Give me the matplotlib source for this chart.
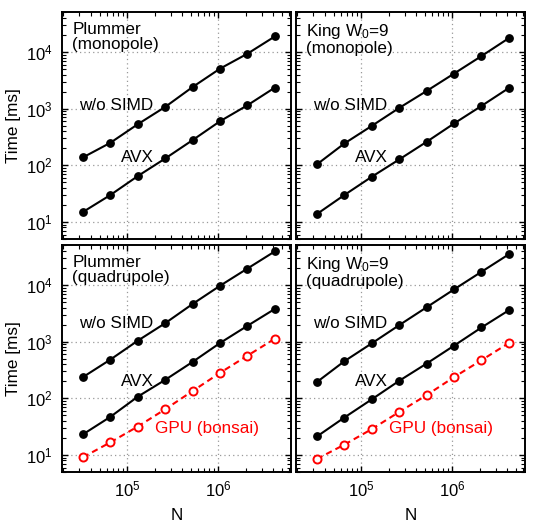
import matplotlib
matplotlib.use("Agg")
import matplotlib.pyplot as plt
from matplotlib.ticker import LogLocator, NullFormatter

plt.rcParams['font.family'] = ['Liberation Sans', 'DejaVu Sans']
plt.rcParams['mathtext.fontset'] = 'custom'
plt.rcParams['mathtext.rm'] = 'Liberation Sans'
plt.rcParams['mathtext.it'] = 'Liberation Sans:italic'
plt.rcParams['mathtext.bf'] = 'Liberation Sans:bold'

N = [32768, 65536, 131072, 262144, 524288, 1048576, 2097152, 4194304]

plummer_mono_nosimd = [138, 250, 532, 1075, 2415, 5100, 9370, 18900]
plummer_mono_avx = [15.0, 29.9, 64.6, 132, 279, 601, 1151, 2360]
king_mono_nosimd = [104, 243, 497, 1032, 2055, 4170, 8500, 17650]
king_mono_avx = [13.8, 29.9, 62.8, 127, 260, 548, 1119, 2323]

plummer_quad_nosimd = [237, 483, 1042, 2123, 4640, 9730, 19600, 39400]
plummer_quad_avx = [23.1, 47.1, 107, 212, 440, 949, 1910, 3795]
plummer_quad_gpu = [9.1, 16.7, 31.8, 64.1, 134.6, 282, 567, 1130]
king_quad_nosimd = [194, 452, 935, 1960, 4055, 8390, 17150, 35000]
king_quad_avx = [21.2, 45.8, 96, 204, 411, 851, 1782, 3594]
king_quad_gpu = [8.5, 15.2, 28.6, 57.5, 114, 237, 471, 948]

titles = ["Plummer\n(monopole)", "King W$_0$=9\n(monopole)",
          "Plummer\n(quadrupole)", "King W$_0$=9\n(quadrupole)"]
label_nosimd = "w/o SIMD"
label_avx = "AVX"
label_gpu = "GPU (bonsai)"

W, H = 538, 530
fig = plt.figure(figsize=(W / 100, H / 100), dpi=100)

def box(l, t, r, b):
    return [l / W, 1 - b / H, (r - l) / W, (b - t) / H]

axes = [
    fig.add_axes(box(62, 12, 291, 239)),
    fig.add_axes(box(296, 12, 525, 239)),
    fig.add_axes(box(62, 245, 291, 472)),
    fig.add_axes(box(296, 245, 525, 472)),
]

panels = [
    (plummer_mono_nosimd, plummer_mono_avx, None),
    (king_mono_nosimd, king_mono_avx, None),
    (plummer_quad_nosimd, plummer_quad_avx, plummer_quad_gpu),
    (king_quad_nosimd, king_quad_avx, king_quad_gpu),
]

FS = 12.3
TFS = 12.0
for i, (ax, (ns, avx, gpu)) in enumerate(zip(axes, panels)):
    ax.set_xscale('log')
    ax.set_yscale('log')
    ax.set_xlim(1.93e4, 6.3e6)
    ax.set_ylim(5.0, 5.1e4)
    ax.grid(True, which='major', linestyle=(0, (1, 2.5)), color='#999999', linewidth=0.9)
    ax.plot(N, ns, '-o', color='black', lw=1.5, ms=5.3, zorder=3)
    ax.plot(N, avx, '-o', color='black', lw=1.5, ms=5.3, zorder=3)
    if gpu is not None:
        ax.plot(N, gpu, '--o', color='#ff0000', lw=1.5, ms=5.8, mfc='white',
                mec='#ff0000', mew=1.4, zorder=3, dashes=(3, 2))
    for s in ax.spines.values():
        s.set_linewidth(1.4)
    ax.xaxis.set_major_locator(LogLocator(base=10, numticks=10))
    ax.xaxis.set_minor_locator(LogLocator(base=10, subs=range(2, 10), numticks=20))
    ax.yaxis.set_major_locator(LogLocator(base=10, numticks=10))
    ax.yaxis.set_minor_locator(LogLocator(base=10, subs=range(2, 10), numticks=20))
    ax.tick_params(which='both', direction='in', top=True, right=True, labelsize=TFS)
    ax.tick_params(which='major', length=4.5, width=1.0)
    ax.tick_params(which='minor', length=2.8, width=0.8)
    ax.tick_params(axis='x', which='major', pad=5.5)
    ax.tick_params(axis='y', which='major', pad=7)
    ax.xaxis.set_minor_formatter(NullFormatter())
    ax.yaxis.set_minor_formatter(NullFormatter())
    if i in (1, 3):
        ax.tick_params(labelleft=False)
    if i in (0, 1):
        ax.tick_params(labelbottom=False)
    ax.text(0.045, 0.955, titles[i], transform=ax.transAxes, ha='left', va='top',
            fontsize=FS, linespacing=0.95)
    if i < 2:
        ax.text(1.95e5, 1150, label_nosimd, ha='right', va='center', fontsize=FS)
        ax.text(1.98e5, 140, label_avx, ha='right', va='center', fontsize=FS)
    else:
        ax.text(1.95e5, 2130, label_nosimd, ha='right', va='center', fontsize=FS)
        ax.text(1.98e5, 201, label_avx, ha='right', va='center', fontsize=FS)
        ax.text(2.0e5, 29.4, label_gpu, ha='left', va='center', fontsize=FS, color='#ff0000')
    if i in (0, 2):
        ax.set_ylabel("Time [ms]", fontsize=FS, labelpad=3)
    if i in (2, 3):
        ax.set_xlabel("N", fontsize=FS, labelpad=6)

fig.savefig("out.png", dpi=100)
